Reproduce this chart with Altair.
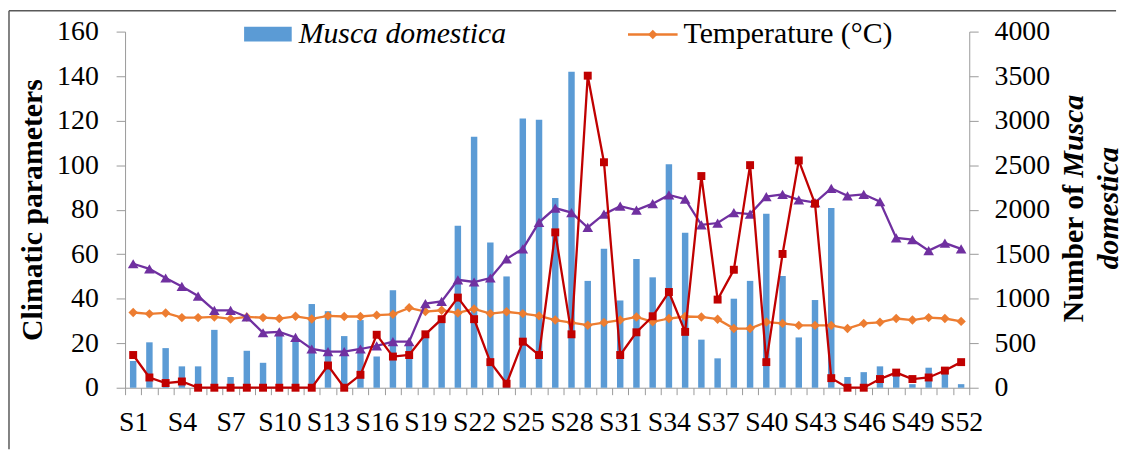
import altair as alt
import pandas as pd

weeks = [f"S{i}" for i in range(1, 53)]

musca = [300, 510, 445, 240, 240, 650, 120, 415, 280, 600,
         540, 940, 860, 580, 760, 350, 1095, 470, 590, 780,
         1820, 2820, 1630, 1250, 3025, 3010, 2130, 3550, 1200, 1560,
         980, 1445, 1240, 2510, 1740, 540, 330, 1000, 1200, 1955,
         1255, 565, 985, 2020, 120, 175, 240, 150, 40, 225,
         165, 40]

temperature = [33.8, 33.2, 33.6, 31.5, 31.5, 31.8, 30.9, 31.8, 31.5, 31.1,
               32.1, 30.9, 32.3, 32.0, 32.0, 32.6, 33.0, 35.9, 34.2, 34.8,
               33.6, 35.4, 33.3, 34.1, 33.3, 32.3, 30.4, 29.2, 28.1, 29.3,
               30.4, 31.8, 29.6, 31.1, 32.0, 31.8, 30.8, 26.6, 26.6, 29.5,
               28.9, 28.0, 28.0, 28.0, 26.6, 28.9, 29.4, 31.1, 30.4, 31.5,
               31.1, 29.8]

humidity = [55.7, 53.4, 49.3, 45.5, 41.2, 34.8, 34.8, 31.8, 24.7, 25.1,
            22.6, 17.4, 16.2, 16.2, 17.4, 18.8, 20.7, 20.7, 37.8, 38.8,
            48.5, 47.5, 49.3, 57.9, 62.4, 74.3, 80.7, 78.7, 72.0, 78.0,
            81.6, 79.8, 82.7, 86.6, 84.7, 73.2, 74.0, 78.7, 78.0, 85.9,
            86.9, 84.4, 83.2, 89.6, 86.2, 86.9, 83.6, 67.3, 66.5, 61.6,
            65.0, 62.4]

rainfall = [14.7, 4.6, 2.1, 2.8, 0, 0, 0, 0, 0, 0,
            0, 0, 10.0, 0, 5.8, 23.8, 14.0, 14.7, 24.0, 30.8,
            40.5, 30.8, 11.5, 1.8, 20.7, 14.7, 69.8, 24.0, 140.2, 101.3,
            14.7, 24.9, 32.1, 43.0, 25.1, 95.1, 39.6, 53.0, 100.0, 11.5,
            60.1, 102.1, 82.7, 4.3, 0, 0, 3.9, 6.8, 3.9, 4.6,
            7.7, 11.5]

df = pd.DataFrame({"week": weeks, "musca": musca, "temp": temperature,
                   "hum": humidity, "rain": rainfall})
one = pd.DataFrame({"a": [0]})

FONT = "Liberation Serif"
AX = "#9a9a9a"
BLUE = "#5B9BD5"
ORANGE = "#ED7D31"
PURPLE = "#7030A0"
RED = "#C00000"

x_enc = alt.X(
    "week:N", sort=weeks,
    scale=alt.Scale(paddingInner=0, paddingOuter=0),
    axis=alt.Axis(
        title=None, labelAngle=0, tickBand="extent", tickSize=7,
        labelExpr="(toNumber(substring(datum.value,1))-1)%3==0 ? datum.value : ''",
        labelFontSize=28, labelFont=FONT, labelColor="black", labelPadding=14,
        domainColor=AX, tickColor=AX, labelOverlap=False, grid=False,
    ),
)

left_axis = alt.Axis(
    orient="left", values=list(range(0, 161, 20)), grid=False,
    title="Climatic parameters", titleFont=FONT, titleFontSize=30,
    titleFontWeight="bold", titleColor="black", titleX=-93, titleY=179.5,
    titleAngle=270, titleAlign="center", titleBaseline="middle",
    tickSize=9, labelPadding=18, labelFontSize=28, labelFont=FONT,
    labelColor="black", domainColor=AX, tickColor=AX,
)
left_scale = alt.Scale(domain=[0, 160], nice=False)

bars = alt.Chart(df).mark_bar(color=BLUE, size=6.5).encode(
    x=x_enc,
    y=alt.Y("musca:Q", scale=alt.Scale(domain=[0, 4000], nice=False),
            axis=alt.Axis(orient="right", values=list(range(0, 4001, 500)),
                          format="d",
                          grid=False, title=None, tickSize=9, labelPadding=16,
                          labelFontSize=28, labelFont=FONT, labelColor="black",
                          domainColor=AX, tickColor=AX)),
)


def series(field, color, shape, size):
    return alt.Chart(df).mark_line(
        color=color, strokeWidth=2.3,
        point=alt.OverlayMarkDef(shape=shape, filled=True, size=size,
                                 color=color, opacity=1),
    ).encode(x=x_enc, y=alt.Y(f"{field}:Q", scale=left_scale, axis=left_axis))


lines = alt.layer(
    series("temp", ORANGE, "diamond", 90),
    series("hum", PURPLE, "triangle-up", 115),
    series("rain", RED, "square", 64),
)

# legend
leg_rect = alt.Chart(one).mark_rect(color=BLUE).encode(
    x=alt.value(120), x2=alt.value(168), y=alt.value(-5), y2=alt.value(10))
leg_text1 = alt.Chart(one).mark_text(
    text="Musca domestica", font=FONT, fontSize=30, fontStyle="italic",
    align="left", baseline="alphabetic", color="black").encode(
    x=alt.value(175), y=alt.value(11))
leg_line = alt.Chart(one).mark_rule(color=ORANGE, strokeWidth=2.5).encode(
    x=alt.value(507), x2=alt.value(557), y=alt.value(3))
leg_pt = alt.Chart(one).mark_point(shape="diamond", filled=True, size=90,
                                   color=ORANGE, opacity=1).encode(
    x=alt.value(532), y=alt.value(3))
leg_text2 = alt.Chart(one).mark_text(
    text="Temperature (°C)", font=FONT, fontSize=30,
    align="left", baseline="alphabetic", color="black").encode(
    x=alt.value(563), y=alt.value(11))

# right axis title (mixed italic)
rt1 = alt.Chart(one).mark_text(
    text="Number of", font=FONT, fontSize=30, fontWeight="bold", angle=270,
    align="right", baseline="middle", color="black").encode(
    x=alt.value(957), y=alt.value(154.5))
rt2 = alt.Chart(one).mark_text(
    text="Musca", font=FONT, fontSize=30, fontWeight="bold", fontStyle="italic",
    angle=270, align="left", baseline="middle", color="black").encode(
    x=alt.value(957), y=alt.value(147))
rt3 = alt.Chart(one).mark_text(
    text="domestica", font=FONT, fontSize=30, fontWeight="bold",
    fontStyle="italic", angle=270, align="center", baseline="middle",
    color="black").encode(x=alt.value(992), y=alt.value(178))

# chart border
border_top = alt.Chart(one).mark_rule(color="#595959", strokeWidth=1.5).encode(
    x=alt.value(-117), x2=alt.value(999), y=alt.value(-21))
border_left = alt.Chart(one).mark_rule(color="#595959", strokeWidth=1.5).encode(
    x=alt.value(-117), y=alt.value(-21), y2=alt.value(421))

chart = alt.layer(
    bars, lines,
    leg_rect, leg_text1, leg_line, leg_pt, leg_text2,
    rt1, rt2, rt3, border_top, border_left,
).resolve_scale(y="independent").properties(
    width=851, height=359, padding=0, background="white"
).configure(font=FONT).configure_axis(
    labelFont=FONT, titleFont=FONT
).configure_view(stroke=None)

chart.save("out.html", embed_options={"renderer": "svg", "actions": False})
